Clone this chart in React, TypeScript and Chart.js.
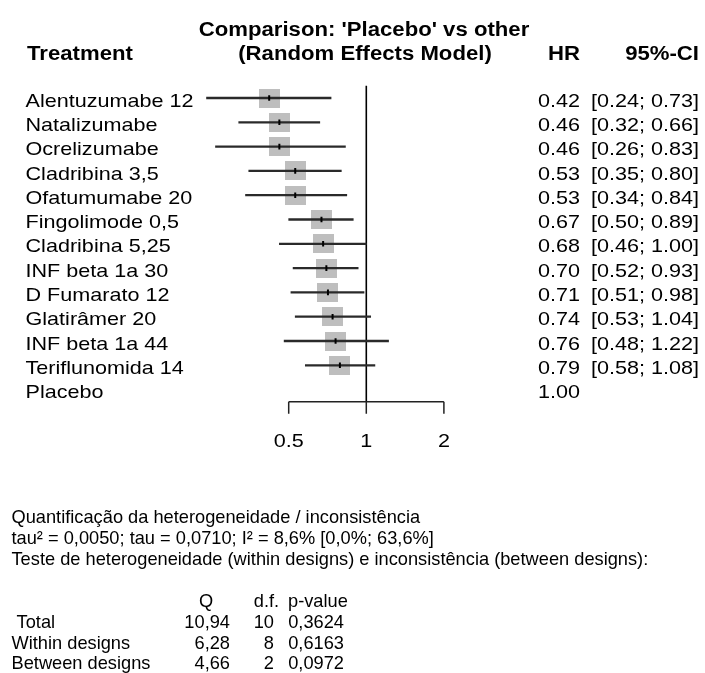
import React, { useEffect, useRef } from "react";
import { Chart, registerables } from "chart.js";
Chart.register(...registerables);

// ---------- data ----------
const treatments = [
  "Alentuzumabe 12",
  "Natalizumabe",
  "Ocrelizumabe",
  "Cladribina 3,5",
  "Ofatumumabe 20",
  "Fingolimode 0,5",
  "Cladribina 5,25",
  "INF beta 1a 30",
  "D Fumarato 12",
  "Glatirâmer 20",
  "INF beta 1a 44",
  "Teriflunomida 14",
  "Placebo",
];
const hr = [0.42, 0.46, 0.46, 0.53, 0.53, 0.67, 0.68, 0.7, 0.71, 0.74, 0.76, 0.79, 1.0];
const lower: (number | null)[] = [0.24, 0.32, 0.26, 0.35, 0.34, 0.5, 0.46, 0.52, 0.51, 0.53, 0.48, 0.58, null];
const upper: (number | null)[] = [0.73, 0.66, 0.83, 0.8, 0.84, 0.89, 1.0, 0.93, 0.98, 1.04, 1.22, 1.08, null];
const xTicks = [0.5, 1, 2];
const xMin = 0.2;
const xMax = 3;

const titleLines = ["Comparison: 'Placebo' vs other", "(Random Effects Model)"];
const headerTreatment = "Treatment";
const headerHR = "HR";
const headerCI = "95%-CI";

const infoLines = [
  "Quantificação da heterogeneidade / inconsistência",
  "tau² = 0,0050; tau = 0,0710; I² = 8,6% [0,0%; 63,6%]",
  "Teste de heterogeneidade (within designs) e inconsistência (between designs):",
];
const tableHeader = ["Q", "d.f.", "p-value"];
const tableRowNames = [" Total", "Within designs", "Between designs"];
const tableQ = ["10,94", "6,28", "4,66"];
const tableDf = ["10", "8", "2"];
const tableP = ["0,3624", "0,6163", "0,0972"];

// ---------- helpers ----------
const FAM = '"Liberation Sans", Arial, Helvetica, sans-serif';
const fmt2 = (v: number) => v.toFixed(2);

function txt(
  ctx: CanvasRenderingContext2D,
  s: string,
  x: number,
  y: number,
  font: string,
  sx: number,
  align: "left" | "right" | "center"
) {
  ctx.save();
  ctx.font = font;
  ctx.textBaseline = "alphabetic";
  ctx.textAlign = "left";
  ctx.fillStyle = "#000";
  const w = ctx.measureText(s).width * sx;
  const x0 = align === "left" ? x : align === "right" ? x - w : x - w / 2;
  ctx.translate(x0, y);
  ctx.scale(sx, 1);
  ctx.fillText(s, 0, 0);
  ctx.restore();
}

export default function App() {
  const ref = useRef<HTMLCanvasElement>(null);

  useEffect(() => {
    document.body.style.margin = "0";
    const canvas = ref.current!;

    const sq = document.createElement("canvas");
    sq.width = 21;
    sq.height = 19;
    const sctx = sq.getContext("2d")!;
    sctx.fillStyle = "#bebebe";
    sctx.fillRect(0, 0, 21, 19);

    const rows = treatments.map((t, i) => i).filter((i) => lower[i] !== null);

    const SX_UP = 1.136;
    const SX_LOW = 0.96;

    const decor = {
      id: "forestDecor",
      beforeDatasetsDraw(chart: any) {
        const { ctx, chartArea } = chart;
        const x = chart.scales.x;
        const px1 = x.getPixelForValue(1);
        ctx.save();
        ctx.strokeStyle = "#000";
        ctx.lineWidth = 1.6;
        ctx.beginPath();
        ctx.moveTo(px1, chartArea.top);
        ctx.lineTo(px1, chartArea.bottom);
        ctx.stroke();
        ctx.restore();
      },
      afterDraw(chart: any) {
        const { ctx, chartArea } = chart;
        const x = chart.scales.x;
        const y = chart.scales.y;

        // x axis (0.5 .. 2)
        const axY = chartArea.bottom;
        ctx.save();
        ctx.strokeStyle = "#222";
        ctx.lineWidth = 1.5;
        ctx.beginPath();
        ctx.moveTo(x.getPixelForValue(xTicks[0]), axY);
        ctx.lineTo(x.getPixelForValue(xTicks[xTicks.length - 1]), axY);
        for (const t of xTicks) {
          const p = x.getPixelForValue(t);
          ctx.moveTo(p, axY);
          ctx.lineTo(p, axY + 12);
        }
        ctx.stroke();
        ctx.restore();
        const fUp = `19px ${FAM}`;
        const fUpB = `bold 19.5px ${FAM}`;
        for (const t of xTicks) {
          txt(ctx, String(t), x.getPixelForValue(t), 447.3, fUp, SX_UP, "center");
        }

        // headers
        txt(ctx, titleLines[0], 364, 36, fUpB, SX_UP, "center");
        txt(ctx, titleLines[1], 365, 59.5, fUpB, SX_UP, "center");
        txt(ctx, headerTreatment, 27, 59.5, fUpB, SX_UP, "left");
        txt(ctx, headerHR, 580, 59.5, fUpB, SX_UP, "right");
        txt(ctx, headerCI, 699, 59.5, fUpB, SX_UP, "right");

        // row labels & values
        treatments.forEach((t, i) => {
          const py = y.getPixelForValue(i) + 8.6;
          txt(ctx, t, 25.5, py, fUp, SX_UP, "left");
          txt(ctx, fmt2(hr[i]), 580, py, fUp, SX_UP, "right");
          if (lower[i] !== null && upper[i] !== null) {
            txt(ctx, `[${fmt2(lower[i] as number)}; ${fmt2(upper[i] as number)}]`, 699, py, fUp, SX_UP, "right");
          }
        });

        // lower text block
        const fLow = `19px ${FAM}`;
        const infoY = [523.3, 544, 564.5];
        infoLines.forEach((s, k) => txt(ctx, s, 11.5, infoY[k], fLow, SX_LOW, "left"));
        const headY = 607;
        txt(ctx, tableHeader[0], 206, headY, fLow, SX_LOW, "center");
        txt(ctx, tableHeader[1], 266.5, headY, fLow, SX_LOW, "center");
        txt(ctx, tableHeader[2], 288, headY, fLow, SX_LOW, "left");
        const rowY = [628, 648.5, 669];
        tableRowNames.forEach((s, k) => {
          txt(ctx, s, 11.5, rowY[k], fLow, SX_LOW, "left");
          txt(ctx, tableQ[k], 230, rowY[k], fLow, SX_LOW, "right");
          txt(ctx, tableDf[k], 274, rowY[k], fLow, SX_LOW, "right");
          txt(ctx, tableP[k], 344, rowY[k], fLow, SX_LOW, "right");
        });
      },
    };

    const chart = new Chart(canvas, {
      type: "bar",
      data: {
        labels: treatments,
        datasets: [
          {
            type: "scatter",
            data: rows.map((i) => ({ x: hr[i], y: treatments[i] })),
            pointStyle: sq as any,
            pointRadius: 10,
            order: 3,
          } as any,
          {
            type: "bar",
            indexAxis: "y",
            data: treatments.map((t, i) =>
              lower[i] !== null ? [lower[i] as number, upper[i] as number] : null
            ),
            backgroundColor: "#2a2a2a",
            borderWidth: 0,
            barThickness: 1.6,
            order: 2,
          } as any,
          {
            type: "scatter",
            data: rows.map((i) => ({ x: hr[i], y: treatments[i] })),
            pointStyle: "line",
            rotation: 90,
            pointRadius: 2.8,
            pointBorderWidth: 2,
            pointBorderColor: "#000",
            pointBackgroundColor: "#000",
            order: 1,
          } as any,
        ],
      },
      options: {
        indexAxis: "y",
        responsive: false,
        animation: false,
        events: [],
        layout: {
          padding: { top: 85.85, bottom: 271.25, left: 186.12, right: 215.71 },
        },
        plugins: {
          legend: { display: false },
          tooltip: { enabled: false },
          title: { display: false },
        },
        scales: {
          x: { type: "logarithmic", min: xMin, max: xMax, display: false },
          y: { type: "category", offset: true, display: false },
        },
      } as any,
      plugins: [decor],
    });

    return () => chart.destroy();
  }, []);

  return (
    <canvas
      ref={ref}
      width={705}
      height={673}
      style={{ display: "block", width: 705, height: 673 }}
    />
  );
}
